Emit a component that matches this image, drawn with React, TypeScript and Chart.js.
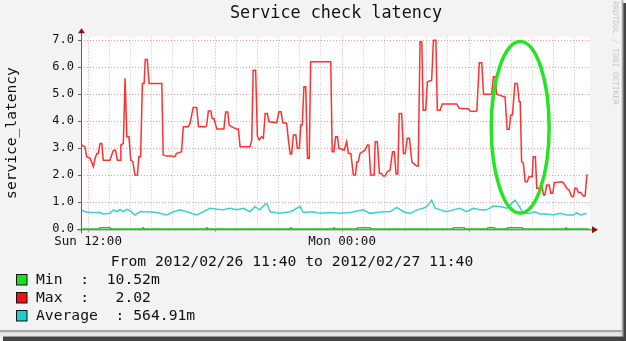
import React, { useEffect, useRef } from 'react';
import { Chart, registerables } from 'chart.js';
Chart.register(...registerables);

// ---- data (x = minutes since 2012/02/26 11:40) ----
const maxMinutes = [
  2, 11, 16, 26, 35, 40, 45, 49, 54, 59,
  63, 82, 87, 92, 98, 103, 111, 113, 120, 125,
  130, 136, 141, 147, 153, 160, 164, 169, 174, 179,
  182, 188, 193, 229, 233, 243, 257, 266, 271, 285,
  290, 304, 309, 318, 328, 333, 352, 356, 361, 368,
  372, 377, 385, 405, 410, 416, 420, 427, 441, 446,
  451, 479, 484, 488, 495, 500, 505, 512, 517, 522,
  528, 533, 555, 561, 567, 572, 583, 588, 593, 597,
  602, 609, 613, 619, 623, 627, 632, 637, 642, 647,
  651, 708, 712, 717, 722, 727, 731, 746, 753, 758,
  765, 772, 778, 782, 786, 791, 805, 812, 816, 821,
  831, 834, 840, 846, 852, 857, 862, 868, 876, 883,
  888, 893, 898, 902, 909, 914, 919, 925, 931, 938,
  942, 952, 956, 961, 966, 970, 977, 982, 994, 999,
  1006, 1010, 1018, 1024, 1065, 1072, 1098, 1103, 1117, 1122,
  1129, 1136, 1141, 1164, 1169, 1174, 1178, 1202, 1208, 1214,
  1218, 1223, 1230, 1237, 1242, 1245, 1249, 1254, 1259, 1265,
  1270, 1279, 1282, 1288, 1292, 1301, 1306, 1311, 1315, 1320,
  1327, 1332, 1337, 1342, 1363, 1367, 1377, 1383, 1391, 1396,
  1400, 1405, 1410, 1417, 1424, 1429, 1434, 1436,
];
const maxValues = [
  3.12, 3.06, 2.69, 2.63, 2.32, 2.63, 2.81, 2.81, 3.18, 3.18,
  2.56, 2.56, 2.75, 2.93, 2.93, 2.56, 2.56, 3.12, 3.18, 5.59,
  3.43, 3.43, 2.56, 2.5, 2.01, 2.01, 2.69, 2.69, 5.4, 5.4,
  6.29, 6.29, 5.4, 5.4, 2.75, 2.71, 2.71, 2.69, 2.81, 2.87,
  3.8, 3.8, 3.92, 4.51, 4.51, 3.8, 3.8, 3.83, 4.38, 4.38,
  4.1, 4.1, 3.71, 3.71, 4.34, 4.34, 3.86, 3.8, 3.71, 3.71,
  3.06, 3.06, 3.3, 5.89, 5.89, 3.45, 3.31, 3.43, 3.37, 4.29,
  4.29, 3.98, 3.95, 4.35, 4.35, 3.95, 3.92, 3.31, 2.79, 2.79,
  3.49, 3.49, 3.0, 3.0, 3.86, 3.86, 5.28, 5.28, 2.63, 2.63,
  6.2, 6.2, 2.87, 2.87, 3.43, 3.43, 3.0, 2.93, 3.24, 2.81,
  2.81, 2.01, 2.01, 2.5, 2.5, 2.81, 2.93, 3.12, 3.12, 2.01,
  2.01, 3.24, 3.24, 2.07, 2.07, 1.97, 1.97, 2.13, 2.19, 2.87,
  2.87, 2.05, 2.05, 4.29, 4.29, 2.81, 2.81, 3.37, 3.37, 2.5,
  2.44, 2.34, 2.34, 6.94, 6.94, 4.41, 4.41, 5.46, 5.52, 7.0,
  7.0, 4.41, 4.41, 4.64, 4.64, 4.48, 4.46, 4.38, 4.36, 4.38,
  6.17, 6.17, 5.0, 5.0, 5.65, 5.65, 5.0, 4.9, 3.7, 3.7,
  4.23, 4.23, 5.4, 5.4, 4.72, 4.72, 2.5, 2.44, 1.76, 1.76,
  1.95, 1.95, 2.69, 2.69, 1.52, 1.52, 1.7, 1.27, 1.27, 1.64,
  1.64, 1.33, 1.33, 1.73, 1.76, 1.73, 1.52, 1.46, 1.21, 1.21,
  1.52, 1.52, 1.36, 1.36, 1.23, 1.23, 2.01, 2.01,
];

const avgMinutes = [
  2, 11, 26, 54, 63, 82, 92, 101, 111, 120,
  130, 139, 153, 167, 186, 215, 243, 262, 281, 300,
  328, 347, 366, 385, 403, 422, 441, 460, 479, 493,
  507, 522, 528, 536, 564, 593, 621, 630, 659, 678,
  706, 734, 763, 800, 819, 838, 857, 876, 895, 914,
  933, 952, 970, 980, 994, 1004, 1018, 1037, 1055, 1074,
  1093, 1112, 1131, 1150, 1169, 1188, 1207, 1221, 1230, 1240,
  1254, 1273, 1287, 1301, 1320, 1339, 1358, 1377, 1396, 1405,
  1415, 1434,
];
const avgValues = [
  0.72, 0.65, 0.62, 0.62, 0.57, 0.59, 0.72, 0.65, 0.74, 0.65,
  0.74, 0.69, 0.53, 0.65, 0.65, 0.62, 0.53, 0.65, 0.72, 0.65,
  0.53, 0.65, 0.78, 0.74, 0.72, 0.78, 0.72, 0.78, 0.65, 0.84,
  0.72, 0.94, 0.94, 0.65, 0.59, 0.65, 0.84, 0.62, 0.65, 0.59,
  0.62, 0.59, 0.62, 0.72, 0.59, 0.62, 0.65, 0.65, 0.81, 0.65,
  0.59, 0.72, 0.78, 0.84, 1.08, 0.78, 0.72, 0.65, 0.72, 0.78,
  0.65, 0.78, 0.72, 0.72, 0.86, 0.84, 0.78, 0.96, 1.08, 0.9,
  0.59, 0.59, 0.65, 0.57, 0.57, 0.53, 0.59, 0.53, 0.53, 0.62,
  0.53, 0.59,
];

const minMinutes = [
  0, 50, 54, 82, 86, 172, 176, 180, 353, 357,
  361, 591, 595, 599, 713, 717, 721, 781, 785, 819,
  823, 1053, 1057, 1086, 1090, 1150, 1154, 1171, 1175, 1206,
  1210, 1250, 1254, 1371, 1375, 1379, 1440,
];
const minValues = [
  0.01, 0.01, 0.06, 0.06, 0.01, 0.01, 0.06, 0.01, 0.01, 0.06,
  0.01, 0.01, 0.06, 0.01, 0.01, 0.06, 0.01, 0.01, 0.06, 0.06,
  0.01, 0.01, 0.06, 0.06, 0.01, 0.01, 0.06, 0.06, 0.01, 0.01,
  0.06, 0.06, 0.01, 0.01, 0.06, 0.01, 0.01,
];

const yGridValues = [0, 0.5, 1, 1.5, 2, 2.5, 3, 3.5, 4, 4.5, 5, 5.5, 6, 6.5, 7];
const xGridMinutes = [
  20, 80, 140, 200, 260, 320, 380, 440, 500, 560, 620, 680,
  740, 800, 860, 920, 980, 1040, 1100, 1160, 1220, 1280, 1340, 1400,
];
const xLabelMinutes = [20, 740];
const xLabelTexts = ['Sun 12:00', 'Mon 00:00'];

const chartTitle = 'Service check latency';
const yAxisTitle = 'service_latency';
const periodText = 'From 2012/02/26 11:40 to 2012/02/27 11:40';
const legendLines = ['Min  :  10.52m', 'Max  :   2.02', 'Average  : 564.91m'];
const legendColors = ['#1fdd1f', '#f01010', '#22cccc'];
const watermark = 'RRDTOOL / TOBI OETIKER';
// highlighted region (minutes / values)
const markMinutes = [1163, 1327];
const markValues = [0.6, 6.95];

const MONO = '"DejaVu Sans Mono", monospace';
const RED_GRID = 'rgba(240,120,120,0.75)';
const GREY_GRID = 'rgba(180,180,180,0.8)';

const pts = (xs: number[], ys: number[]) => xs.map((x, i) => ({ x, y: ys[i] }));

const decor = {
  id: 'decor',
  beforeDraw(chart: any) {
    const { ctx, chartArea: a, width, height } = chart;
    ctx.save();
    ctx.fillStyle = '#f3f3f3';
    ctx.fillRect(0, 0, width, height);
    ctx.fillStyle = '#ffffff';
    ctx.fillRect(a.left, a.top, a.right - a.left + 1, a.bottom - a.top);
    // screenshot frame
    ctx.fillStyle = '#a9a9a9';
    ctx.fillRect(0, 330, 622, 2.5);
    ctx.fillStyle = '#e6e6e6';
    ctx.fillRect(0, 332.5, 622, 4);
    ctx.fillStyle = '#aaaaaa';
    ctx.fillRect(621.7, 0, 1.6, 336.5);
    ctx.fillStyle = '#444444';
    ctx.fillRect(3, 336.5, 623, 4.5);
    ctx.fillRect(623.3, 3, 2.7, 338);
    ctx.restore();
  },
  beforeDatasetsDraw(chart: any) {
    const { ctx, chartArea: a, scales } = chart;
    const y0 = scales.y.getPixelForValue(0);
    ctx.save();
    ctx.strokeStyle = '#606060';
    ctx.lineWidth = 1;
    ctx.beginPath();
    ctx.moveTo(a.left - 4, y0 + 0.5);
    ctx.lineTo(a.right + 4, y0 + 0.5);
    ctx.moveTo(a.left + 0.5, y0 + 4);
    ctx.lineTo(a.left + 0.5, a.top - 4);
    ctx.stroke();
    ctx.fillStyle = '#8b1010';
    ctx.beginPath();
    ctx.moveTo(a.right + 3, y0 + 0.5 - 3.5);
    ctx.lineTo(a.right + 9, y0 + 0.5);
    ctx.lineTo(a.right + 3, y0 + 0.5 + 3.5);
    ctx.closePath();
    ctx.fill();
    ctx.beginPath();
    ctx.moveTo(a.left + 0.5 - 3.5, a.top - 3.5);
    ctx.lineTo(a.left + 0.5, a.top - 8.5);
    ctx.lineTo(a.left + 0.5 + 3.5, a.top - 3.5);
    ctx.closePath();
    ctx.fill();
    ctx.restore();
  },
  afterDraw(chart: any) {
    const { ctx, scales } = chart;
    ctx.save();
    ctx.fillStyle = '#111';
    ctx.textBaseline = 'middle';
    ctx.textAlign = 'center';
    ctx.font = `16.8px ${MONO}`;
    ctx.fillText(chartTitle, 336, 14);
    ctx.font = `14.7px ${MONO}`;
    ctx.fillText(periodText, 292, 262);
    ctx.textAlign = 'left';
    legendLines.forEach((t, i) => {
      const cy = 280 + i * 18;
      ctx.fillStyle = legendColors[i];
      ctx.fillRect(16, cy - 6, 11, 11);
      ctx.strokeStyle = '#111';
      ctx.lineWidth = 1;
      ctx.strokeRect(16.5, cy - 5.5, 10.5, 10.5);
      ctx.fillStyle = '#111';
      ctx.fillText(t, 36, cy);
    });
    // watermark
    ctx.save();
    ctx.translate(615, 53);
    ctx.rotate(Math.PI / 2);
    ctx.textAlign = 'center';
    ctx.fillStyle = '#c4c4c4';
    ctx.font = `7.8px ${MONO}`;
    ctx.fillText(watermark, 0, 0);
    ctx.restore();
    // highlight ellipse
    const x1 = scales.x.getPixelForValue(markMinutes[0]);
    const x2 = scales.x.getPixelForValue(markMinutes[1]);
    const y1 = scales.y.getPixelForValue(markValues[1]);
    const y2 = scales.y.getPixelForValue(markValues[0]);
    ctx.strokeStyle = '#22e622';
    ctx.lineWidth = 3.5;
    ctx.beginPath();
    ctx.ellipse((x1 + x2) / 2, (y1 + y2) / 2, (x2 - x1) / 2, (y2 - y1) / 2, 0, 0, Math.PI * 2);
    ctx.stroke();
    ctx.restore();
  },
};

export default function App() {
  const ref = useRef<HTMLCanvasElement | null>(null);
  useEffect(() => {
    if (!ref.current) return;
    const chart = new Chart(ref.current, {
      type: 'line',
      data: {
        datasets: [
          { label: 'Average', data: pts(avgMinutes, avgValues), borderColor: '#3ccfd8', borderWidth: 1.5, pointRadius: 0, tension: 0 },
          { label: 'Max', data: pts(maxMinutes, maxValues), borderColor: '#ff3030', borderWidth: 1.5, pointRadius: 0, tension: 0 },
          { label: 'Min', data: pts(minMinutes, minValues), borderColor: '#16c816', borderWidth: 1.5, pointRadius: 0, tension: 0 },
        ],
      },
      options: {
        responsive: false,
        animation: false,
        devicePixelRatio: 1,
        layout: { padding: { left: 0, right: 37, top: 36.7, bottom: 0 } },
        plugins: { legend: { display: false }, title: { display: false }, tooltip: { enabled: false } },
        scales: {
          x: {
            type: 'linear',
            min: 0,
            max: 1440,
            afterBuildTicks: (s: any) => { s.ticks = xGridMinutes.map((v) => ({ value: v })); },
            afterFit: (s: any) => { s.height = 341 - 229.3; },
            ticks: {
              autoSkip: false,
              maxRotation: 0,
              padding: 2,
              color: '#111',
              font: { family: MONO, size: 12.5 },
              callback: (v: any) => { const i = xLabelMinutes.indexOf(Number(v)); return i >= 0 ? xLabelTexts[i] : ''; },
            },
            grid: {
              color: (c: any) => (c.tick && (c.tick.value - 20) % 360 === 0 ? RED_GRID : GREY_GRID),
              tickColor: (c: any) => (c.tick && (c.tick.value - 20) % 360 === 0 ? RED_GRID : 'transparent'),
              tickLength: 3,
              lineWidth: 1,
            },
            border: { display: false, dash: [1, 2] },
          },
          y: {
            min: 0,
            max: 7.13,
            afterBuildTicks: (s: any) => { s.ticks = yGridValues.map((v) => ({ value: v })); },
            afterFit: (s: any) => { s.width = 81; },
            ticks: {
              padding: 4,
              color: '#111',
              font: { family: MONO, size: 12 },
              callback: (v: any) => (Number.isInteger(Number(v)) ? Number(v).toFixed(1) : ''),
            },
            grid: {
              color: (c: any) => (c.tick && Number.isInteger(c.tick.value) ? RED_GRID : GREY_GRID),
              tickColor: (c: any) => (c.tick && Number.isInteger(c.tick.value) ? '#606060' : 'transparent'),
              tickLength: 3,
              lineWidth: 1,
            },
            border: { display: false, dash: [1, 2] },
            title: {
              display: true,
              text: yAxisTitle,
              color: '#111',
              font: { family: MONO, size: 14.6 },
              padding: { top: 3, bottom: 0 },
            },
          },
        },
      },
      plugins: [decor],
    } as any);
    return () => chart.destroy();
  }, []);
  return (
    <div style={{ position: 'absolute', left: 0, top: 0, width: 626, height: 341 }}>
      <canvas ref={ref} width={626} height={341} style={{ display: 'block' }} />
    </div>
  );
}
